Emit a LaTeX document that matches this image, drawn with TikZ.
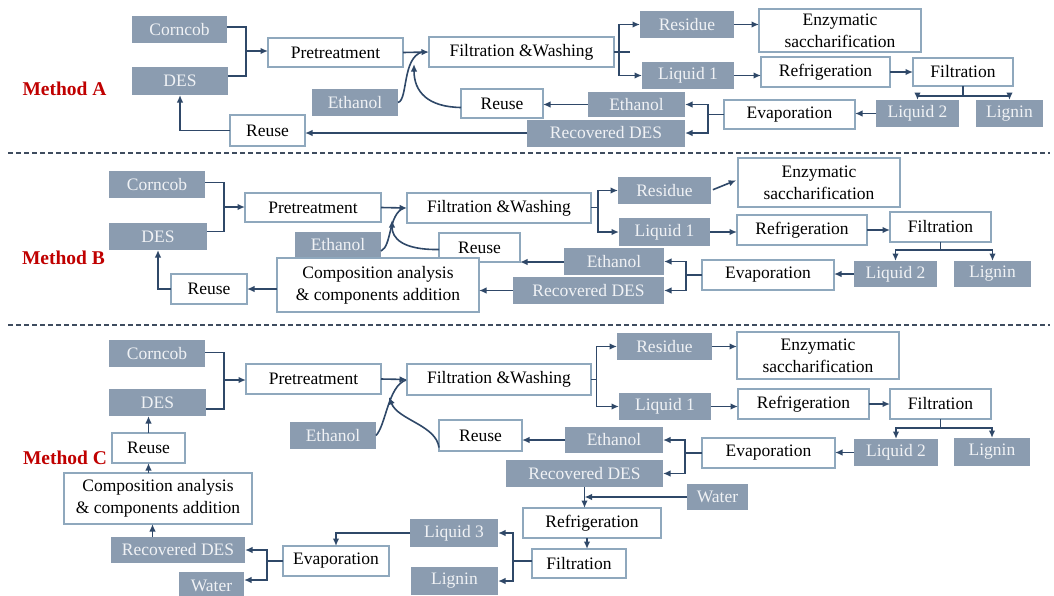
\documentclass[tikz,border=0pt]{standalone}
\usepackage{fontspec}
\setmainfont{Liberation Serif}
\usetikzlibrary{arrows.meta,calc}
\definecolor{gfill}{HTML}{8B9CB0}
\definecolor{gtext}{HTML}{F0F2F5}
\definecolor{wbord}{HTML}{8FA8BD}
\definecolor{arrc}{HTML}{2F4868}
\definecolor{mred}{HTML}{C00000}
\definecolor{dashc}{HTML}{3E4C5E}
\newcommand\bx[7]{\node[#1, minimum width={(#5-#3)*1pt}, minimum height={(#6-#4)*1pt}] (#2) at ({(#3+#5)/2},{(#4+#6)/2}) {#7};}
\tikzset{
 base/.style={inner sep=0pt, outer sep=0pt, font=\fontsize{17.5}{22}\selectfont, align=center},
 gbox/.style={base, fill=gfill, text=gtext},
 wbox/.style={base, fill=white, draw=wbord, line width=1.8pt, text=black},
 ln/.style={draw=arrc, line width=1.6pt},
 arr/.style={ln, -{Latex[length=7.5pt,width=6.5pt]}},
 mlabel/.style={font=\bfseries\fontsize{19.5}{22}\selectfont, text=mred},
 sep/.style={draw=dashc, line width=1.2pt, dash pattern=on 5pt off 3pt}
}
\begin{document}
\begin{tikzpicture}[x=1pt,y=-1pt]
\useasboundingbox[fill=white] (0,0) rectangle (1054,595);
% separators
\coordinate (s1a) at (8,153); \coordinate (s1b) at (1050,153);
\coordinate (s2a) at (8,325); \coordinate (s2b) at (1050,325);
\draw[sep] (s1a) -- (s1b);
\draw[sep] (s2a) -- (s2b);
% ================= Method A =================
\node[mlabel] (mA) at (64.5,89) {Method A};
\bx{gbox}{cornA}{132}{16}{227}{43}{Corncob}
\bx{gbox}{desA}{132}{67}{228}{95}{DES}
\bx{wbox}{preA}{268}{38}{403}{67}{Pretreatment}
\bx{wbox}{fwA}{429}{37}{614}{67}{Filtration \&Washing}
\bx{gbox}{ethLA}{312}{89}{398}{116}{Ethanol}
\bx{wbox}{reuseTA}{461}{89}{543}{118}{Reuse}
\bx{wbox}{reuseBA}{230}{115}{305}{146}{Reuse}
\bx{gbox}{resA}{640}{11}{734}{38}{Residue}
\bx{gbox}{liqA}{642}{62}{734}{89}{Liquid 1}
\bx{wbox}{enzA}{759}{9}{921}{52}{Enzymatic\\saccharification}
\bx{wbox}{refA}{761}{57}{890}{87}{Refrigeration}
\bx{wbox}{filA}{913}{58}{1013}{86}{Filtration}
\bx{gbox}{liq2A}{876}{100}{959}{127}{Liquid 2}
\bx{gbox}{ligA}{976}{100}{1043}{127}{Lignin}
\bx{wbox}{evaA}{724}{100}{855}{129}{Evaporation}
\bx{gbox}{ethRA}{588}{92}{685}{117}{Ethanol}
\bx{gbox}{rdesA}{527}{119.5}{685}{146.5}{Recovered DES}
\coordinate (jA) at (246,51);
\draw[ln] ([yshift=2.5pt]cornA.east) -| (jA) |- ([yshift=5pt]desA.east);
\draw[arr] (jA) -- (preA.west |- jA);
\draw[arr] (preA.east) -- (fwA.west);
\draw[ln] (ethLA.east) .. controls (408,100) and (402,58) .. (422,52);
\draw[arr] ([yshift=-4pt]reuseTA.west) .. controls (428,107) and (414,92) .. (414,64);
\draw[arr] (ethRA.west) -- (reuseTA.east |- ethRA.west);
\draw[arr] (rdesA.west) -- (reuseBA.east |- rdesA.west);
\draw[arr] (reuseBA.west) -| (desA.south);
\coordinate (bA) at (619,52);
\draw[ln] (fwA.east) -- ++(16,0);
\draw[arr] (bA) |- (resA.west);
\draw[arr] (bA) |- (liqA.west);
\draw[arr] (resA.east) -- (enzA.west |- resA.east);
\draw[arr] (liqA.east) -- (refA.west |- liqA.east);
\draw[arr] (refA.east) -- (filA.west |- refA.east);
\coordinate (sA) at ($(filA.south)+(0,10)$);
\draw[ln] (filA.south) -- (sA);
\draw[arr] (sA) -| (liq2A.north);
\draw[arr] (sA) -| (ligA.north);
\draw[arr] (liq2A.west) -- (evaA.east |- liq2A.west);
\coordinate (eA) at (708,114.5);
\draw[ln] (evaA.west) -- (eA);
\draw[arr] (eA) |- (ethRA.east);
\draw[arr] (eA) |- (rdesA.east);
% ================= Method B =================
\node[mlabel] (mB) at (63.5,258) {Method B};
\bx{gbox}{cornB}{109}{171}{205}{198}{Corncob}
\bx{gbox}{desB}{109}{223}{207}{250}{DES}
\bx{wbox}{preB}{245}{193}{381}{222}{Pretreatment}
\bx{wbox}{fwB}{407}{193}{591}{223}{Filtration \&Washing}
\bx{gbox}{ethLB}{295}{232}{381}{258}{Ethanol}
\bx{wbox}{reuseTB}{439}{233}{520}{262}{Reuse}
\bx{wbox}{reuseBB}{171}{274}{247}{304}{Reuse}
\bx{wbox}{compB}{277}{258}{479}{312}{Composition analysis\\\& components addition}
\bx{gbox}{resB}{618}{177}{711}{204}{Residue}
\bx{wbox}{enzB}{738}{158}{900}{207}{Enzymatic\\saccharification}
\bx{gbox}{liqB}{619}{218}{710}{246}{Liquid 1}
\bx{wbox}{refB}{737}{215}{867}{245}{Refrigeration}
\bx{wbox}{filB}{890}{212}{991}{242}{Filtration}
\bx{gbox}{liq2B}{854}{261}{937}{287}{Liquid 2}
\bx{gbox}{ligB}{954}{261}{1031}{287}{Lignin}
\bx{wbox}{evaB}{702}{260}{834}{290}{Evaporation}
\bx{gbox}{ethRB}{564}{248}{664}{275}{Ethanol}
\bx{gbox}{rdesB}{513}{277}{664}{304}{Recovered DES}
\coordinate (jB) at (224,207);
\draw[ln] ([yshift=2pt]cornB.east) -| (jB) |- ([yshift=5pt]desB.east);
\draw[arr] (jB) -- (preB.west |- jB);
\draw[arr] (preB.east) -- (fwB.west);
\draw[ln] ([yshift=-6pt]ethLB.east) .. controls (392,246) and (388,214) .. (404,208);
\draw[arr] ([yshift=-2pt]reuseTB.west) .. controls (402,250) and (392,238) .. (392,220);
\draw[arr] (ethRB.west |- reuseTB.south) -- (reuseTB.south east);
\draw[arr] (rdesB.west) -- (compB.east |- rdesB.west);
\draw[arr] (compB.west |- reuseBB.east) -- (reuseBB.east);
\draw[arr] (reuseBB.west) -| (desB.south);
\coordinate (bB) at (598,207.5);
\draw[ln] (fwB.east |- bB) -- (bB);
\draw[arr] (bB) |- (resB.west);
\draw[arr] (bB) |- (liqB.west);
\draw[arr, shorten <=2pt, shorten >=2pt] (resB.east) -- ([yshift=3pt]enzB.west);
\draw[arr] (liqB.east) -- (refB.west |- liqB.east);
\draw[arr] (refB.east) -- (filB.west |- refB.east);
\coordinate (sB) at ($(filB.south)+(0,8)$);
\draw[ln] (filB.south) -- (sB);
\draw[arr] (sB) -| (liq2B.north);
\draw[arr] (sB) -| (ligB.north);
\draw[arr] (liq2B.west) -- (evaB.east |- liq2B.west);
\coordinate (eB) at (686,275);
\draw[ln] (evaB.west) -- (eB);
\draw[arr] (eB) |- (ethRB.east);
\draw[arr] (eB) |- (rdesB.east);
% ================= Method C =================
\node[mlabel] (mC) at (65,458) {Method C};
\bx{gbox}{cornC}{109}{340}{205}{367}{Corncob}
\bx{gbox}{desC}{109}{389}{206}{416}{DES}
\bx{wbox}{preC}{246}{364}{381}{394}{Pretreatment}
\bx{wbox}{fwC}{407}{364}{591}{395}{Filtration \&Washing}
\bx{gbox}{ethLC}{290}{422}{376}{449}{Ethanol}
\bx{wbox}{reuseTC}{439}{420}{522}{451}{Reuse}
\bx{wbox}{reuseLC}{112}{433}{185}{463}{Reuse}
\bx{wbox}{compC}{64}{473}{252}{524}{Composition analysis\\\& components addition}
\bx{gbox}{rdesLC}{111}{537}{245}{563}{Recovered DES}
\bx{gbox}{waterLC}{179}{572}{244}{600}{Water}
\bx{wbox}{evaCb}{283}{546}{389}{576}{Evaporation}
\bx{gbox}{liq3C}{410}{519}{498}{547}{Liquid 3}
\bx{gbox}{ligCb}{411}{567}{498}{595}{Lignin}
\bx{wbox}{filCb}{532}{549}{626}{578}{Filtration}
\bx{wbox}{refCb}{523}{508}{661}{538}{Refrigeration}
\bx{gbox}{waterRC}{687}{484}{748}{510}{Water}
\bx{gbox}{resC}{617}{333}{712}{360}{Residue}
\bx{wbox}{enzC}{737}{332}{899}{379}{Enzymatic\\saccharification}
\bx{gbox}{liqC}{619}{393}{711}{420}{Liquid 1}
\bx{wbox}{refC}{738}{389}{869}{419}{Refrigeration}
\bx{wbox}{filC}{890}{389}{991}{419}{Filtration}
\bx{gbox}{liq2C}{854}{439}{938}{466}{Liquid 2}
\bx{gbox}{ligC}{954}{438}{1030}{466}{Lignin}
\bx{wbox}{evaC}{702}{438}{835}{468}{Evaporation}
\bx{gbox}{ethRC}{565}{427}{663}{453}{Ethanol}
\bx{gbox}{rdesC}{506}{460}{663}{487}{Recovered DES}
\coordinate (jC) at (224,380);
\draw[ln] ([yshift=1pt]cornC.east) -| (jC) |- ([yshift=-6.5pt]desC.east);
\draw[arr] (jC) -- (preC.west |- jC);
\draw[arr] (preC.east) -- (fwC.west);
\draw[ln] (ethLC.east) .. controls (386,425) and (388,386) .. (406,380);
\draw[arr] ([yshift=-12pt]reuseTC.west) .. controls (436,425) and (398,420) .. (389,397);
\draw[arr] (ethRC.west) -- (reuseTC.east |- ethRC.west);
\coordinate (bC) at (596.5,379.5);
\draw[ln] (fwC.east |- bC) -- (bC);
\draw[arr] (bC) |- (resC.west);
\draw[arr] (bC) |- (liqC.west);
\draw[arr] (resC.east) -- (enzC.west |- resC.east);
\draw[arr] (liqC.east) -- (refC.west |- liqC.east);
\draw[arr] (refC.east) -- (filC.west |- refC.east);
\coordinate (sC) at ($(filC.south)+(0,9)$);
\draw[ln] (filC.south) -- (sC);
\draw[arr] (sC) -| (liq2C.north);
\draw[arr] (sC) -| (ligC.north);
\draw[arr] (liq2C.west) -- (evaC.east |- liq2C.west);
\coordinate (eC) at (685,453);
\draw[ln] (evaC.west) -- (eC);
\draw[arr] (eC) |- (ethRC.east);
\draw[arr] (eC) |- (rdesC.east);
\draw[arr] (rdesC.south) -- (refCb.north -| rdesC.south);
\draw[arr] (waterRC.west) -- (rdesC.south |- waterRC.west);
\draw[arr] ([xshift=-5pt]refCb.south) -- ([xshift=-5pt]refCb.south |- filCb.north);
\coordinate (fC) at (513,561);
\draw[ln] (filCb.west |- fC) -- (fC);
\draw[arr] (fC) |- (liq3C.east);
\draw[arr] (fC) |- (ligCb.east);
\draw[arr] (liq3C.west) -| (evaCb.north);
\coordinate (eCb) at (267,561);
\draw[ln] (evaCb.west) -- (eCb);
\draw[arr] (eCb) |- (rdesLC.east);
\draw[arr] (eCb) |- ([yshift=6pt]waterLC.east);
\coordinate (cC) at ([xshift=4pt]reuseLC.south);
\draw[arr] (rdesLC.north -| cC) -- (compC.south -| cC);
\draw[arr] (compC.north -| reuseLC.south) -- (reuseLC.south);
\draw[arr] (reuseLC.north) -- (reuseLC.north |- desC.south);
\end{tikzpicture}
\end{document}
